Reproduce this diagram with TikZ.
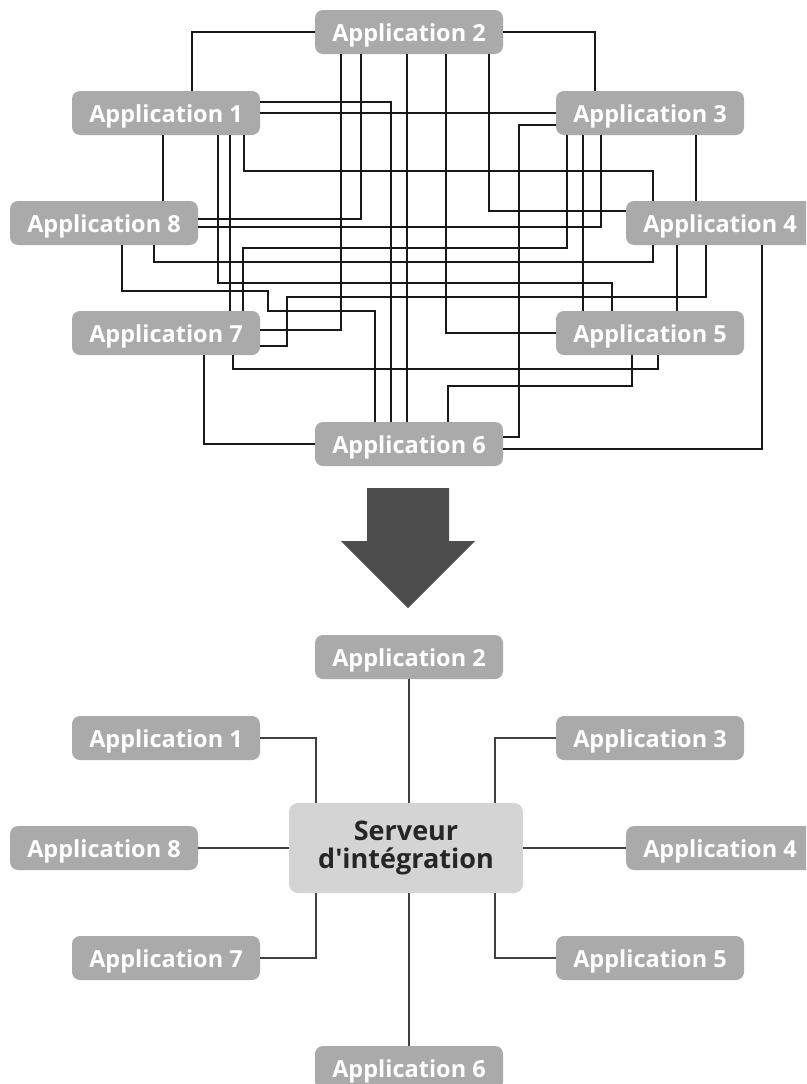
\documentclass[tikz,border=0pt]{standalone}
\usepackage{fontspec}
\newfontfamily\appfont{Open Sans}
\usepackage{xcolor}
\definecolor{appgray}{HTML}{AAAAAA}
\definecolor{hubgray}{HTML}{D4D4D4}
\definecolor{arrowgray}{HTML}{4D4D4D}
\begin{document}
\begin{tikzpicture}[
		x=1pt, y=-1pt,
		app/.style={rounded corners=8pt, fill=appgray, text=white, minimum width=188pt, minimum height=44pt, inner sep=0pt,
			text height=18pt, text depth=0pt, font=\appfont\bfseries\fontsize{23.5}{28}\selectfont},
		hub/.style={rounded corners=9pt, fill=hubgray, text=black!85, minimum width=234pt, minimum height=90pt, inner sep=0pt,
			align=center, font=\appfont\bfseries\fontsize{27}{28}\selectfont},
		link/.style={draw=black!90, line width=1.8pt},
		spoke/.style={draw=black!75, line width=2pt}
	]
		\useasboundingbox (0,0) rectangle (806,1084);
		\clip (0,0) rectangle (806,1084);
		% many-to-many
		\node[app] (a1) at (166,113) {Application 1};
		\node[app] (a2) at (409,32) {Application 2};
		\node[app] (a3) at (650,113) {Application 3};
		\node[app] (a4) at (720,223) {Application 4};
		\node[app] (a5) at (650,333) {Application 5};
		\node[app] (a6) at (409,444) {Application 6};
		\node[app] (a7) at (166,333) {Application 7};
		\node[app] (a8) at (104,223) {Application 8};
		\draw[link] (a2.west) -| ([xshift=26pt]a1.north);
		\draw[link] (a1.east) -- (a3.west);
		\draw[link] ([xshift=78pt]a1.south) -- ++(0,36) -| ([xshift=-67pt]a4.north);
		\draw[link] ([xshift=52pt]a1.south) -- ++(0,148) -| ([xshift=-38pt]a5.north);
		\draw[link] ([yshift=11pt]a1.east) -| ([xshift=-18pt]a6.north);
		\draw[link] ([xshift=64pt]a1.south) -- ([xshift=64pt]a7.north);
		\draw[link] ([xshift=-3pt]a1.south) -- ([xshift=59pt]a8.north);
		\draw[link] (a2.east) -| ([xshift=-55pt]a3.north);
		\draw[link] ([xshift=80pt]a2.south) |- ([yshift=12pt]a4.west);
		\draw[link] ([xshift=37pt]a2.south) |- (a5.west);
		\draw[link] ([xshift=-2pt]a2.south) -- ([xshift=-2pt]a6.north);
		\draw[link] ([xshift=-68pt]a2.south) |- ([yshift=3pt]a7.east);
		\draw[link] ([xshift=-48pt]a2.south) |- ([yshift=4pt]a8.east);
		\draw[link] ([xshift=46pt]a3.south) -- ([xshift=-24pt]a4.north);
		\draw[link] ([xshift=-67pt]a3.south) -- ([xshift=-67pt]a5.north);
		\draw[link] ([yshift=-12pt]a3.west) -- ++(-37,0) |- ([yshift=7pt]a6.east);
		\draw[link] ([xshift=-83pt]a3.south) -- ++(0,113) -| ([xshift=77pt]a7.north);
		\draw[link] ([xshift=-49pt]a3.south) |- ([yshift=-4pt]a8.east);
		\draw[link] ([xshift=-43pt]a4.south) -- ([xshift=27pt]a5.north);
		\draw[link] ([xshift=42pt]a4.south) |- ([yshift=-5pt]a6.east);
		\draw[link] ([xshift=-14pt]a4.south) |- (287,297) |- ([yshift=-13pt]a7.east);
		\draw[link] ([xshift=-67pt]a4.south) -- ++(0,17) -| ([xshift=50pt]a8.south);
		\draw[link] ([xshift=-18pt]a5.south) -- ++(0,31) -| ([xshift=39pt]a6.north);
		\draw[link] ([xshift=8pt]a5.south) -- ++(0,14) -| ([xshift=67pt]a7.south);
		\draw[link] (a6.west) -| ([xshift=38pt]a7.south);
		\draw[link] ([xshift=18pt]a8.south) |- (268,291) |- (375,311) -- ([xshift=-34pt]a6.north);
		% arrow
		\fill[arrowgray] (367,488) -- (449,488) -- (449,541) -- (475,541) -- (408,608) -- (341,541) -- (367,541) -- cycle;
		% hub
		\node[hub] (srv) at (406,848) {Serveur\\d'intégration};
		\node[app] (b1) at (166,738) {Application 1};
		\node[app] (b2) at (409,657) {Application 2};
		\node[app] (b3) at (650,738) {Application 3};
		\node[app] (b4) at (720,848) {Application 4};
		\node[app] (b5) at (650,958) {Application 5};
		\node[app] (b6) at (409,1068) {Application 6};
		\node[app] (b7) at (166,958) {Application 7};
		\node[app] (b8) at (104,848) {Application 8};
		\draw[spoke] (b2.south) -- (b2.south |- srv.north);
		\draw[spoke] (b1.east) -| ([xshift=-90pt]srv.north);
		\draw[spoke] (b3.west) -| ([xshift=89pt]srv.north);
		\draw[spoke] (b8.east) -- (srv.west);
		\draw[spoke] (b4.west) -- (srv.east);
		\draw[spoke] (b7.east) -| ([xshift=-90pt]srv.south);
		\draw[spoke] (b5.west) -| ([xshift=89pt]srv.south);
		\draw[spoke] (b6.north) -- (b6.north |- srv.south);
	\end{tikzpicture}
\end{document}
